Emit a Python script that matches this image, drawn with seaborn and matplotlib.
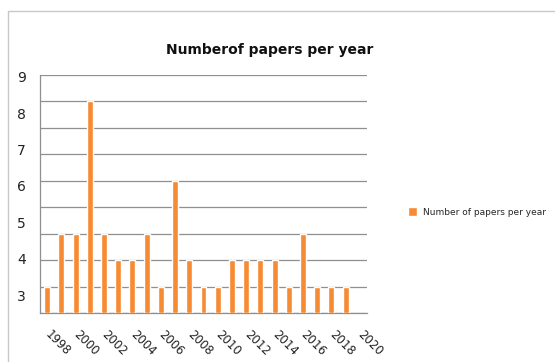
import matplotlib
matplotlib.use("Agg")
import matplotlib.pyplot as plt
from matplotlib.lines import Line2D
import seaborn as sns
import pandas as pd

# Datos (alturas leídas sobre la rejilla del gráfico)
years = list(range(1998, 2021))
papers = [1, 3, 3, 8, 3, 2, 2, 3, 1, 5, 2, 1, 1, 2, 2, 2, 2, 1, 3, 1, 1, 1]
ytick_labels = ["3", "4", "5", "6", "7", "8", "9"]
xtick_labels = [str(y) for y in years[::2]]

df = pd.DataFrame({"Year": years[:len(papers)], "Papers": papers})

sns.set_style("white")
plt.rcParams["font.family"] = ["DejaVu Sans"]

fig = plt.figure(figsize=(5.55, 3.62), dpi=100)
ax = fig.add_axes([40 / 555, 49 / 362, 327 / 555, 238 / 362])

sns.barplot(data=df, x="Year", y="Papers", order=years, color="#F68B33",
            saturation=1, width=0.42, ax=ax, label="Number of papers per year",
            zorder=3)

ax.set_xlim(-0.5, len(years) - 0.5)
ax.set_ylim(0, 9)
ax.set_xlabel("")
ax.set_ylabel("")

# rejilla horizontal en cada entero
ax.set_yticks(range(10), minor=True)
ax.grid(which="minor", axis="y", color="#8f8f8f", linewidth=0.9, zorder=1)
ax.set_axisbelow(True)

# etiquetas del eje y repartidas uniformemente (como en el original)
ypos = [0.68 + i * (8.93 - 0.68) / 6 for i in range(len(ytick_labels))]
ax.set_yticks(ypos)
ax.set_yticklabels(ytick_labels, fontsize=10, color="#222222")
ax.tick_params(axis="y", which="major", length=0, pad=10)
ax.tick_params(axis="y", which="minor", length=5, color="#8f8f8f", width=0.9)

# eje x: marcas entre categorías, etiquetas cada dos años
ax.set_xticks([i - 0.5 for i in range(len(years) + 1)], minor=True)
ax.set_xticks(range(0, len(years), 2))
ax.set_xticklabels(xtick_labels, fontsize=8.5, color="#222222",
                   rotation=-45, ha="left", va="center", rotation_mode="anchor")
ax.tick_params(axis="x", which="major", length=0, pad=14)
ax.tick_params(axis="x", which="minor", length=5, color="#8f8f8f", width=0.9,
               direction="out")

for s in ["top", "right"]:
    ax.spines[s].set_visible(False)
for s in ["left", "bottom"]:
    ax.spines[s].set_color("#8f8f8f")
    ax.spines[s].set_linewidth(0.9)

fig.text(270 / 555, 1 - 50 / 362, "Numberof papers per year", ha="center",
         va="center", fontsize=10, fontweight="bold", color="#111111")

ax.legend(loc="center left", bbox_to_anchor=(400 / 555, 1 - 212 / 362),
          bbox_transform=fig.transFigure, frameon=False, fontsize=6.5,
          handlelength=1.0, handleheight=1.0, handletextpad=0.7)

# marco del gráfico (solo izquierda y arriba visibles)
fig.add_artist(Line2D([8 / 555, 8 / 555], [0, 1 - 11 / 362], color="#c8c8c8",
                      linewidth=1, transform=fig.transFigure))
fig.add_artist(Line2D([8 / 555, 1], [1 - 11 / 362, 1 - 11 / 362], color="#c8c8c8",
                      linewidth=1, transform=fig.transFigure))

fig.savefig("out.png", dpi=100)
